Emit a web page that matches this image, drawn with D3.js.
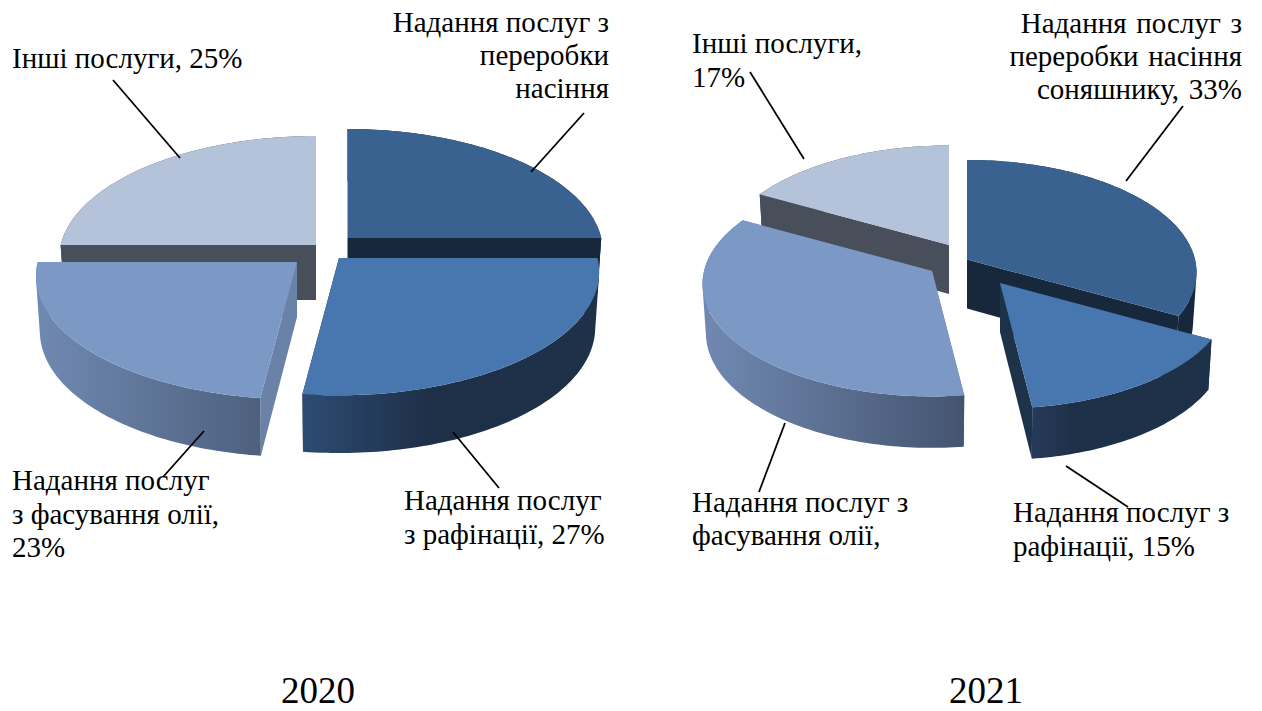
<!DOCTYPE html>
<html lang="uk">
<head>
<meta charset="utf-8">
<script src="https://cdn.jsdelivr.net/npm/d3@7"></script>
<style>
  html, body { margin: 0; padding: 0; background: #fff; }
  svg { display: block; }
  text { font-family: "Liberation Serif", "Times New Roman", serif; fill: #000; }
</style>
</head>
<body>
<svg id="chart" width="1262" height="711"></svg>
<script>
// Shares of services by year, in percent, clockwise from twelve o'clock.
const years = ["2020", "2021"];
const values2020 = [25, 27, 23, 25];
const values2021 = [33, 15, 35, 17];

const labels2020 = [
  ["Надання послуг з", "переробки", "насіння"],
  ["Надання послуг", "з рафінації, 27%"],
  ["Надання послуг", "з фасування олії,", "23%"],
  ["Інші послуги, 25%"]
];
const labels2021 = [
  ["Надання послуг з", "переробки насіння", "соняшнику, 33%"],
  ["Надання послуг з", "рафінації, 15%"],
  ["Надання послуг з", "фасування олії,"],
  ["Інші послуги,", "17%"]
];

const topColors  = ["#3a6291", "#4876ae", "#7c98c4", "#b4c3da"];
const wallColors = ["#18283c", "#1d3349", "#6a82a7", "#484f5a"];
const rimStops2020 = [
  [["0", "#18283c"], ["1", "#18283c"]],
  [["0", "#2d4b73"], ["0.42", "#1e3048"], ["1", "#1d3148"]],
  [["0", "#7189b2"], ["1", "#4d617e"]],
  [["0", "#484f5a"], ["1", "#484f5a"]]
];
const rimStops2021 = [
  [["0", "#18283c"], ["1", "#18283c"]],
  [["0", "#26395a"], ["0.25", "#1e3048"], ["1", "#1d3148"]],
  [["0", "#7189b2"], ["1", "#445470"]],
  [["0", "#484f5a"], ["1", "#484f5a"]]
];

// Layout of each pie: centre, radii, wall height and how far each slice is pulled out.
const pies = [
  {
    year: years[0], values: values2020, labels: labels2020, rimStops: rimStops2020,
    cx: 325, cy: 252, rx: 257, ry: 121.5, depth: 55, nearGain: 0.0009,
    explode: [[22.5, -14], [14, 6], [-28, 10], [-9, -7]],
    titleX: 318,
    labelAt: [
      { x: 609, y: 32, anchor: "end", lead: 33 },
      { x: 404, y: 510, anchor: "start", lead: 34 },
      { x: 12, y: 490, anchor: "start", lead: 33.5 },
      { x: 12, y: 68, anchor: "start", lead: 34 }
    ],
    leaders: [
      [[584, 113], [531, 172]],
      [[499, 488], [453, 432]],
      [[163, 477], [204, 431]],
      [[113, 80], [180, 158]]
    ]
  },
  {
    year: years[1], values: values2021, labels: labels2021, rimStops: rimStops2021,
    cx: 955, cy: 262, rx: 228, ry: 111, depth: 49, nearGain: 0,
    explode: [[12, -2.5], [45, 21], [-23, 9], [-6, -17]],
    titleX: 986,
    labelAt: [
      { x: 1242, y: 33, anchor: "end", lead: 33, wordSpacing: 2.5 },
      { x: 1013, y: 522, anchor: "start", lead: 33.5 },
      { x: 692, y: 512, anchor: "start", lead: 33 },
      { x: 692, y: 53, anchor: "start", lead: 34 }
    ],
    leaders: [
      [[1183, 106], [1126, 181]],
      [[1128, 507], [1066, 466]],
      [[759, 492], [785, 423]],
      [[750, 72], [804, 159]]
    ]
  }
];

const PERSPECTIVE = 0.115;
const FONT_SIZE = 29;

const svg = d3.select("#chart");
const defs = svg.append("defs");
const pieLayout = d3.pie().sort(null).startAngle(0).endAngle(2 * Math.PI);
const outline = d3.line();

// A point on the slice's rim under a simple perspective: nearer parts grow.
function project(pie, slice, angle, lowered) {
  const [dx, dy] = pie.explode[slice];
  const near = 1 + dy * pie.nearGain;
  const u = Math.sin(angle), v = -Math.cos(angle);
  const s = 1 / (1 - PERSPECTIVE * v);
  const shrink = lowered ? 0.985 : 1;
  const x = pie.cx + dx + pie.rx * near * u * s * shrink;
  const y = pie.cy + dy + pie.ry * v * s + (lowered ? pie.depth * (1 + 0.05 * v) : 0);
  return [x, y];
}

function apex(pie, slice, lowered) {
  const [dx, dy] = pie.explode[slice];
  return [pie.cx + dx, pie.cy + dy + (lowered ? pie.depth : 0)];
}

function rim(pie, slice, a0, a1, lowered) {
  const steps = Math.max(8, Math.ceil((a1 - a0) / 0.02));
  return d3.range(steps + 1).map(i => project(pie, slice, a0 + (a1 - a0) * i / steps, lowered));
}

// The curved wall as a strip of quads, wound alike so their union fills cleanly.
function wallStrip(pie, slice, a0, a1) {
  const top = rim(pie, slice, a0, a1, false);
  const bottom = rim(pie, slice, a0, a1, true);
  return d3.range(top.length - 1).map(i => {
    const quad = [top[i], top[i + 1], bottom[i + 1], bottom[i]];
    if (d3.polygonArea(quad) < 0) quad.reverse();
    return outline(quad) + "Z";
  }).join("");
}

pies.forEach((pie, pieIndex) => {
  const arcs = pieLayout(pie.values);
  // Slices pulled towards the viewer are painted last.
  const order = d3.range(arcs.length).sort((a, b) => pie.explode[a][1] - pie.explode[b][1]);
  const g = svg.append("g");

  order.forEach(i => {
    const { startAngle: a0, endAngle: a1 } = arcs[i];
    const slice = g.append("g");

    [a0, a1].forEach(a => {
      slice.append("path")
        .attr("d", outline([apex(pie, i, false), project(pie, i, a, false), project(pie, i, a, true), apex(pie, i, true)]) + "Z")
        .attr("fill", wallColors[i]);
    });

    const gradientId = `rim-${pieIndex}-${i}`;
    const gradient = defs.append("linearGradient").attr("id", gradientId);
    pie.rimStops[i].forEach(([offset, color]) => gradient.append("stop").attr("offset", offset).attr("stop-color", color));
    slice.append("path")
      .attr("d", wallStrip(pie, i, a0, a1))
      .attr("fill", `url(#${gradientId})`);

    slice.append("path")
      .attr("d", outline([apex(pie, i, false), ...rim(pie, i, a0, a1, false)]) + "Z")
      .attr("fill", topColors[i]);
  });

  pie.leaders.forEach(points => {
    g.append("path").attr("d", outline(points)).attr("fill", "none").attr("stroke", "#000").attr("stroke-width", 1.8);
  });

  pie.labels.forEach((lines, i) => {
    const at = pie.labelAt[i];
    const label = g.append("text")
      .attr("font-size", FONT_SIZE)
      .attr("text-anchor", at.anchor)
      .attr("word-spacing", at.wordSpacing || 0);
    lines.forEach((line, j) => {
      label.append("tspan").attr("x", at.x).attr("y", at.y + j * at.lead).text(line);
    });
  });

  g.append("text")
    .attr("x", pie.titleX).attr("y", 703)
    .attr("font-size", 37).attr("text-anchor", "middle")
    .text(pie.year);
});
</script>
</body>
</html>
